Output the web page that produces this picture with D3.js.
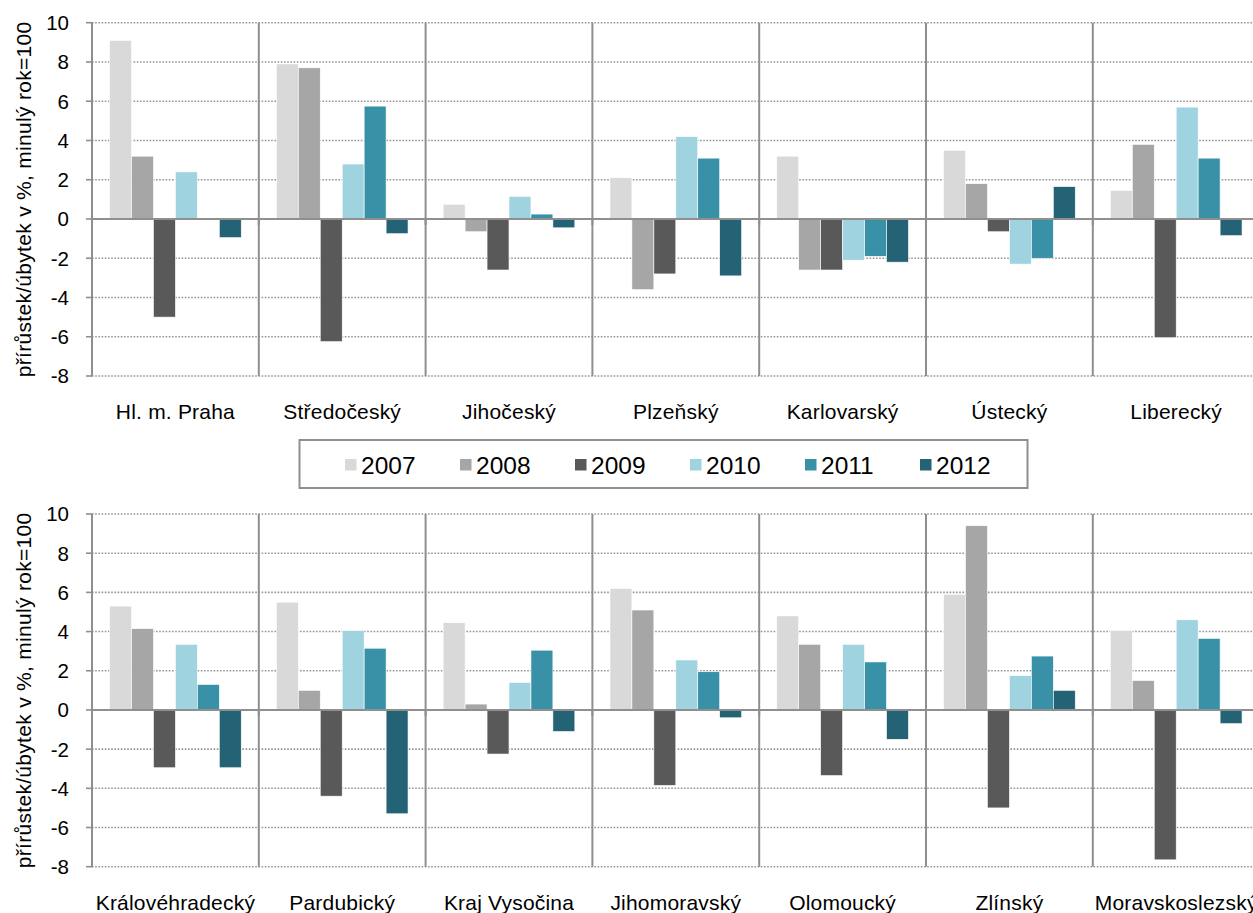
<!DOCTYPE html>
<html><head><meta charset="utf-8">
<script src="https://cdnjs.cloudflare.com/ajax/libs/d3/7.8.5/d3.min.js"></script>
<style>
html,body{margin:0;padding:0;background:#fff;overflow:hidden}
text{font-family:"Liberation Sans",Arial,sans-serif;fill:#000}
</style></head>
<body><svg id="c" width="1253" height="913"></svg>
<script>
const years = ["2007","2008","2009","2010","2011","2012"];
const colors = ["#d9d9d9","#a6a6a6","#595959","#a0d3e0","#3891a7","#246275"];
const yTicks = [-8,-6,-4,-2,0,2,4,6,8,10];
const yTitle = "přírůstek/úbytek  v %, minulý rok=100";

const regionsTop = ["Hl. m. Praha","Středočeský","Jihočeský","Plzeňský","Karlovarský","Ústecký","Liberecký"];
const valuesTop = [
  [9.1, 3.2, -5.0, 2.4, 0.0, -0.95],
  [7.9, 7.7, -6.25, 2.8, 5.75, -0.75],
  [0.75, -0.65, -2.6, 1.15, 0.25, -0.45],
  [2.1, -3.6, -2.8, 4.2, 3.1, -2.9],
  [3.2, -2.6, -2.6, -2.1, -1.9, -2.2],
  [3.5, 1.8, -0.65, -2.3, -2.0, 1.65],
  [1.45, 3.8, -6.05, 5.7, 3.1, -0.85]
];
const regionsBottom = ["Královéhradecký","Pardubický","Kraj Vysočina","Jihomoravský","Olomoucký","Zlínský","Moravskoslezský"];
const valuesBottom = [
  [5.3, 4.15, -2.95, 3.35, 1.3, -2.95],
  [5.5, 1.0, -4.4, 4.05, 3.15, -5.3],
  [4.45, 0.3, -2.25, 1.4, 3.05, -1.1],
  [6.2, 5.1, -3.85, 2.55, 1.95, -0.4],
  [4.8, 3.35, -3.35, 3.35, 2.45, -1.5],
  [5.9, 9.4, -5.0, 1.75, 2.75, 1.0],
  [4.05, 1.5, -7.65, 4.6, 3.65, -0.7]
];

const svg = d3.select("#c");
const plotLeft = 92, catW = 166.8;
const grid = "#8f8f8f";

function panel(regions, values, top, bottom, labelY) {
  const g = svg.append("g");
  const x = d3.scaleBand().domain(regions).range([plotLeft, plotLeft + catW * regions.length]).paddingInner(0).paddingOuter(0);
  const y = d3.scaleLinear().domain([-8, 10]).range([bottom, top]);
  const bw = catW / 7.6;
  const xs = d3.scaleBand().domain(years).range([0.8 * bw, 6.8 * bw]).padding(0);

  g.selectAll(".gl").data(yTicks.filter(d => d !== 0)).join("line")
    .attr("x1", plotLeft).attr("x2", 1260)
    .attr("y1", d => y(d)).attr("y2", d => y(d))
    .attr("stroke", "#959595").attr("stroke-width", 1.6).attr("stroke-dasharray", "1.6,1.6");
  g.selectAll(".tk").data(yTicks).join("line")
    .attr("x1", plotLeft - 6).attr("x2", plotLeft)
    .attr("y1", d => y(d)).attr("y2", d => y(d))
    .attr("stroke", grid).attr("stroke-width", 1.6);
  g.selectAll(".tl").data(yTicks).join("text")
    .attr("x", 69).attr("y", d => y(d)).attr("dy", "0.36em")
    .attr("text-anchor", "end").attr("font-size", 20.5).text(d => d);

  regions.forEach((r, i) => {
    g.append("g").selectAll("rect").data(values[i]).join("rect")
      .attr("x", (d, j) => x(r) + xs(years[j]))
      .attr("width", xs.bandwidth())
      .attr("y", d => y(Math.max(0, d)))
      .attr("height", d => Math.abs(y(d) - y(0)))
      .attr("fill", (d, j) => colors[j])
      .attr("stroke", "#fff").attr("stroke-width", 0.6);
  });

  const divs = d3.range(regions.length + 1).map(i => plotLeft + i * catW);
  g.selectAll(".dv").data(divs).join("line")
    .attr("x1", d => d).attr("x2", d => d)
    .attr("y1", top).attr("y2", bottom)
    .attr("stroke", grid).attr("stroke-width", 2);
  g.append("line").attr("x1", plotLeft).attr("x2", 1260)
    .attr("y1", y(0)).attr("y2", y(0))
    .attr("stroke", grid).attr("stroke-width", 2);
  g.selectAll(".zt").data(divs).join("line")
    .attr("x1", d => d).attr("x2", d => d)
    .attr("y1", y(0)).attr("y2", y(0) + 6)
    .attr("stroke", grid).attr("stroke-width", 2);

  g.selectAll(".cl").data(regions).join("text")
    .attr("x", d => x(d) + catW / 2).attr("y", labelY)
    .attr("text-anchor", "middle").attr("font-size", 21).attr("letter-spacing", 0.2).text(d => d);

  g.append("text")
    .attr("transform", `translate(31,${(top + bottom) / 2}) rotate(-90)`)
    .attr("text-anchor", "middle").attr("font-size", 21).attr("letter-spacing", 0.3).text(yTitle);
}

panel(regionsTop, valuesTop, 22.7, 376, 419);
panel(regionsBottom, valuesBottom, 514, 866.7, 910);

const lg = svg.append("g");
lg.append("rect").attr("x", 299.5).attr("y", 440).attr("width", 728).attr("height", 48)
  .attr("fill", "#fff").attr("stroke", grid).attr("stroke-width", 2);
const lx = d3.scalePoint().domain(years).range([345, 920]);
lg.selectAll("rect.sw").data(years).join("rect").attr("class", "sw")
  .attr("x", d => lx(d)).attr("y", 459).attr("width", 11.5).attr("height", 11.5)
  .attr("fill", (d, i) => colors[i]);
lg.selectAll("text").data(years).join("text")
  .attr("x", d => lx(d) + 16).attr("y", 465).attr("dy", "0.36em")
  .attr("font-size", 24.5).text(d => d);
</script></body></html>
